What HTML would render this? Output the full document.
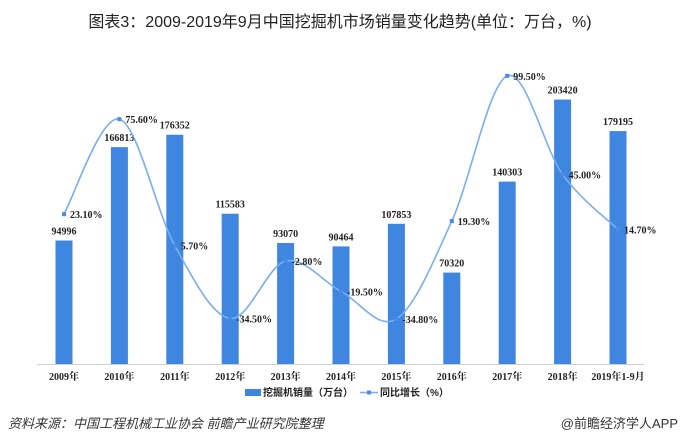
<!DOCTYPE html>
<html><head><meta charset="utf-8"><style>
body{margin:0;background:#fff;}
svg{display:block;}
</style></head><body>
<svg width="680" height="444" xmlns="http://www.w3.org/2000/svg" font-family="'Liberation Serif','Noto Serif CJK SC',serif">
<text x="340" y="27" text-anchor="middle" font-family="'Liberation Sans','Noto Sans CJK SC',sans-serif" font-size="16" fill="#222">图表3：2009-2019年9月中国挖掘机市场销量变化趋势(单位：万台，%)</text>
<line x1="37" y1="364.5" x2="644" y2="364.5" stroke="#d0d0d0" stroke-width="1"/>
<g id="bars" fill="#3f86e0"></g>
<g id="vals" font-size="10" font-weight="bold" fill="#222" text-anchor="middle"></g>
<path id="line" fill="none" stroke="#7aaef0" stroke-width="1.6"/>
<g id="pts" fill="#4a8be6"></g>
<g id="pl" font-size="10" font-weight="bold" fill="#222"></g>
<g id="xl" font-size="10" font-weight="bold" fill="#222" text-anchor="middle"></g>
<rect x="245" y="389" width="16" height="7" fill="#3f86e0"/>
<text x="263" y="396" font-size="10" font-weight="bold" fill="#222" font-family="'Liberation Sans','Noto Sans CJK SC',sans-serif">挖掘机销量（万台）</text>
<line x1="360" y1="392.5" x2="378" y2="392.5" stroke="#7aaef0" stroke-width="1.6"/>
<rect x="367" y="390.5" width="4" height="4" fill="#4a8be6"/>
<text x="380" y="396" font-size="10" font-weight="bold" fill="#222" font-family="'Liberation Sans','Noto Sans CJK SC',sans-serif">同比增长（%）</text>
<text x="8" y="428" font-size="13" font-style="italic" fill="#333" font-family="'Liberation Sans','Noto Sans CJK SC',sans-serif">资料来源：中国工程机械工业协会 前瞻产业研究院整理</text>
<text x="678" y="428" font-size="13" fill="#333" text-anchor="end" font-family="'Liberation Sans','Noto Sans CJK SC',sans-serif">@前瞻经济学人APP</text>
</svg>
<script>
(function(){
var ns="http://www.w3.org/2000/svg";
var yrs=["2009年","2010年","2011年","2012年","2013年","2014年","2015年","2016年","2017年","2018年","2019年1-9月"];
var v=[94996,166813,176352,115583,93070,90464,107853,70320,140303,203420,179195];
var p=[23.1,75.6,5.7,-34.5,-2.8,-19.5,-34.8,19.3,99.5,45.0,14.7];
function el(g,t,a,txt){var e=document.createElementNS(ns,t);for(var k in a)e.setAttribute(k,a[k]);if(txt)e.textContent=txt;document.getElementById(g).appendChild(e);}
var pts=[];
for(var i=0;i<11;i++){
 var cx=64+i*55.4, h=v[i]*0.0013, bt=364-h;
 el("bars","rect",{x:cx-8.5,y:bt,width:17,height:h});
 el("vals","text",{x:cx,y:bt-6},String(v[i]));
 el("xl","text",{x:cx,y:380},yrs[i]);
 var py=256-p[i]*1.81; pts.push([cx,py]);
 el("pts","rect",{x:cx-2,y:py-2,width:4,height:4});
 el("pl","text",{x:cx+6,y:py+4},p[i].toFixed(2)+"%");
}
var d="M"+pts[0][0]+","+pts[0][1];
for(var i=0;i<pts.length-1;i++){
 var p0=pts[i-1]||pts[i],p1=pts[i],p2=pts[i+1],p3=pts[i+2]||p2;
 var c1=[p1[0]+(p2[0]-p0[0])/6,p1[1]+(p2[1]-p0[1])/6],c2=[p2[0]-(p3[0]-p1[0])/6,p2[1]-(p3[1]-p1[1])/6];
 d+=" C"+c1+" "+c2+" "+p2;
}
document.getElementById("line").setAttribute("d",d);
})();
</script>
</body></html>
